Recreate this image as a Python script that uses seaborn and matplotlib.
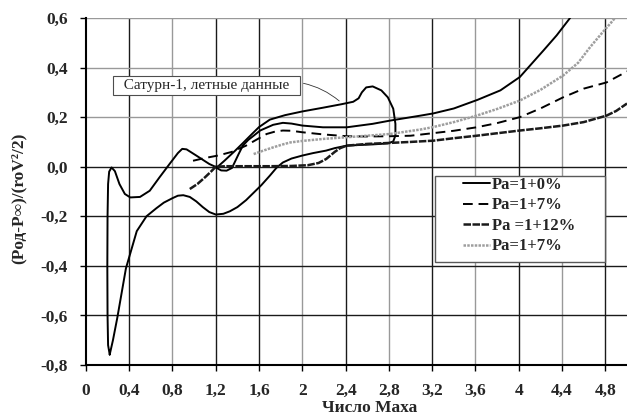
import matplotlib
matplotlib.use("Agg")
import matplotlib.pyplot as plt
import seaborn as sns
from matplotlib.lines import Line2D
from matplotlib.patches import Rectangle

# Saturn-1 flight data: one closed loop (start at the low tip, go up, round, back)
flight_mach = [0.22, 0.205, 0.2, 0.198, 0.2, 0.205, 0.215, 0.237, 0.268, 0.31, 0.36, 0.41,
               0.5, 0.59, 0.68, 0.78, 0.85, 0.89, 0.93, 1.02, 1.14, 1.21, 1.28, 1.38, 1.45,
               1.53, 1.6, 1.7, 1.84, 2.0, 2.19, 2.36, 2.47, 2.52, 2.55, 2.59, 2.65, 2.73,
               2.79, 2.84, 2.86, 2.86, 2.84, 2.79,
               2.65, 2.5, 2.41, 2.3, 2.22, 2.1, 2.0, 1.9, 1.82, 1.76, 1.7, 1.62, 1.55, 1.48,
               1.4, 1.33, 1.27, 1.2, 1.14, 1.08, 1.02, 0.96, 0.9, 0.85, 0.8, 0.72, 0.65,
               0.56, 0.47, 0.41, 0.37, 0.33, 0.29, 0.25, 0.22]
flight_cp = [-0.758, -0.72, -0.6, -0.4, -0.2, -0.07, -0.02, -0.003, -0.018, -0.07, -0.11, -0.124,
             -0.122, -0.097, -0.043, 0.015, 0.055, 0.072, 0.07, 0.045, 0.011, -0.003, 0.024, 0.065, 0.095,
             0.13, 0.16, 0.19, 0.208, 0.223, 0.238, 0.252, 0.262, 0.276, 0.3, 0.32, 0.324, 0.308,
             0.28, 0.234, 0.173, 0.126, 0.102, 0.094,
             0.09, 0.087, 0.085, 0.075, 0.065, 0.055, 0.045, 0.033, 0.017, -0.005, -0.036, -0.075, -0.105, -0.135,
             -0.163, -0.18, -0.19, -0.193, -0.183, -0.163, -0.14, -0.122, -0.115, -0.117, -0.127, -0.145, -0.168,
             -0.2, -0.26, -0.35, -0.41, -0.51, -0.61, -0.7, -0.758]

# Pa=1+0%
mach_0 = [1.2, 1.25, 1.3, 1.35, 1.41, 1.45, 1.5, 1.55, 1.61, 1.73, 1.82, 1.9, 2.0, 2.19, 2.41,
          2.65, 2.81, 3.09, 3.21, 3.4, 3.62, 3.83, 4.01, 4.23, 4.35, 4.47, 4.55]
cp_0 = [-0.003, -0.015, -0.016, -0.005, 0.05, 0.085, 0.108, 0.125, 0.146, 0.169, 0.177, 0.174, 0.166, 0.159, 0.159,
        0.173, 0.186, 0.206, 0.215, 0.235, 0.27, 0.308, 0.362, 0.47, 0.53, 0.598, 0.65]

# Pa=1+7% (dashed)
mach_7 = [0.99, 1.1, 1.22, 1.35, 1.48, 1.58, 1.67, 1.75, 1.82, 1.9, 2.0, 2.2, 2.41, 2.6, 2.81,
          3.0, 3.2, 3.4, 3.61, 3.8, 4.01, 4.2, 4.41, 4.6, 4.81, 4.96, 5.0]
cp_7 = [0.024, 0.035, 0.045, 0.06, 0.085, 0.11, 0.132, 0.142, 0.146, 0.145, 0.139, 0.13, 0.123, 0.122, 0.123,
        0.125, 0.135, 0.145, 0.159, 0.176, 0.2, 0.235, 0.28, 0.315, 0.34, 0.375, 0.385]

# Pa =1+12%
mach_12 = [0.96, 1.03, 1.1, 1.16, 1.2, 1.3, 1.5, 1.7, 1.9, 2.05, 2.15, 2.22, 2.3, 2.35, 2.41,
           2.6, 2.81, 3.0, 3.21, 3.4, 3.61, 3.8, 4.01, 4.2, 4.41, 4.6, 4.81, 4.9, 5.0]
cp_12 = [-0.09, -0.07, -0.043, -0.018, 0.0, 0.002, 0.002, 0.002, 0.003, 0.006, 0.015, 0.031, 0.06, 0.075, 0.085,
         0.092, 0.096, 0.1, 0.105, 0.115, 0.125, 0.135, 0.146, 0.155, 0.166, 0.18, 0.206, 0.225, 0.255]

# Pa=1+7% (grey)
mach_7g = [1.55, 1.64, 1.73, 1.82, 1.89, 2.0, 2.19, 2.41, 2.6, 2.81, 3.09, 3.2, 3.4, 3.61, 3.8,
           4.01, 4.2, 4.41, 4.55, 4.66, 4.77, 4.87, 4.92]
cp_7g = [0.051, 0.065, 0.078, 0.09, 0.098, 0.104, 0.112, 0.119, 0.125, 0.132, 0.15, 0.159, 0.18, 0.206, 0.233,
         0.267, 0.31, 0.368, 0.42, 0.483, 0.54, 0.59, 0.62]

legend_labels = ["Pa=1+0%", "Pa=1+7%", "Pa =1+12%", "Pa=1+7%"]

x_ticks = [0, 0.4, 0.8, 1.2, 1.6, 2, 2.4, 2.8, 3.2, 3.6, 4, 4.4, 4.8]
x_ticklabels = ["0", "0,4", "0,8", "1,2", "1,6", "2", "2,4", "2,8", "3,2", "3,6", "4", "4,4", "4,8"]
y_ticks = [-0.8, -0.6, -0.4, -0.2, 0.0, 0.2, 0.4, 0.6]
y_ticklabels = ["-0,8", "-0,6", "-0,4", "-0,2", "0,0", "0,2", "0,4", "0,6"]

sns.set_style("ticks")
plt.rcParams['font.family'] = ['Liberation Serif', 'DejaVu Serif']

fig, ax = plt.subplots(figsize=(6.27, 4.19), dpi=100)
fig.subplots_adjust(left=0.137, right=1.0, bottom=0.129, top=0.957)

# line styles
st_0 = dict(color='black', lw=1.4)
st_7 = dict(color='black', lw=1.4, linestyle=(0, (5, 3)))
st_12 = dict(color='0.1', lw=1.8, linestyle=(0, (3, 0.6)))
st_7g = dict(color='0.62', lw=1.8, linestyle=(0, (1, 0.5)))

sns.lineplot(x=flight_mach, y=flight_cp, sort=False, estimator=None, ax=ax, color='black', lw=1.4)
sns.lineplot(x=mach_0, y=cp_0, sort=False, estimator=None, ax=ax, **st_0)
sns.lineplot(x=mach_7, y=cp_7, sort=False, estimator=None, ax=ax, **st_7)
sns.lineplot(x=mach_12, y=cp_12, sort=False, estimator=None, ax=ax, **st_12)
sns.lineplot(x=mach_7g, y=cp_7g, sort=False, estimator=None, ax=ax, **st_7g)

ax.set_xlim(0, 5)
ax.set_ylim(-0.8, 0.6)
ax.set_xticks(x_ticks)
ax.set_xticklabels(x_ticklabels, fontsize=12.5, fontweight='bold')
ax.set_yticks(y_ticks)
ax.set_yticklabels(y_ticklabels, fontsize=12.5, fontweight='bold')
ax.tick_params(direction='out', length=4, width=1, color='black', pad=9)

# grid: some lines grey, others black (as in the scan)
grey_x = [0.8, 2.0, 2.8, 3.6, 4.4]
grey_y = [0.2, 0.4, 0.6]
for xv in x_ticks[1:]:
    ax.axvline(xv, color='0.6' if xv in grey_x else '0.1', lw=1.0, zorder=0.5)
for yv in y_ticks[1:]:
    ax.axhline(yv, color='0.6' if yv in grey_y else '0.1', lw=1.0, zorder=0.5)

for s in ['top', 'right']:
    ax.spines[s].set_visible(False)
for s in ['left', 'bottom']:
    ax.spines[s].set_color('black')
    ax.spines[s].set_linewidth(1.5)

ax.set_xlabel("Число Маха", fontsize=12.5, fontweight='bold')
ax.set_ylabel("(Pод-P∞)/(roV²/2)", fontsize=12.5, fontweight='bold')
ax.xaxis.set_label_coords(0.525, -0.102)
ax.yaxis.set_label_coords(-0.11, 0.48)

# annotation for flight data
ax.annotate("  Сатурн-1, летные данные  ", xy=(2.36, 0.258), xytext=(1.117, 0.328),
            ha='center', va='center', fontsize=11, color='0.15',
            bbox=dict(boxstyle='square,pad=0.2', fc='white', ec='0.3', lw=0.8),
            arrowprops=dict(arrowstyle='-', lw=0.6, color='0.2', relpos=(1, 0.75),
                            connectionstyle='arc3,rad=-0.15'))

# legend box drawn separately, entries inside
ax.add_patch(Rectangle((0.645, 0.297), 0.314, 0.248, transform=ax.transAxes,
                       fc='white', ec='0.35', lw=1.0, zorder=4.5))
handles = [Line2D([], [], **st_0), Line2D([], [], **st_7),
           Line2D([], [], **st_12), Line2D([], [], **st_7g)]
leg = ax.legend(handles, legend_labels, loc='upper left', bbox_to_anchor=(0.697, 0.542),
                frameon=False, borderpad=0, borderaxespad=0, handlelength=1.6,
                handletextpad=0.15, labelspacing=0.27,
                prop=dict(family=['Liberation Serif', 'DejaVu Serif'], weight='bold', size=12))
leg.set_zorder(5)

plt.savefig("out.png", dpi=100)
plt.close()
